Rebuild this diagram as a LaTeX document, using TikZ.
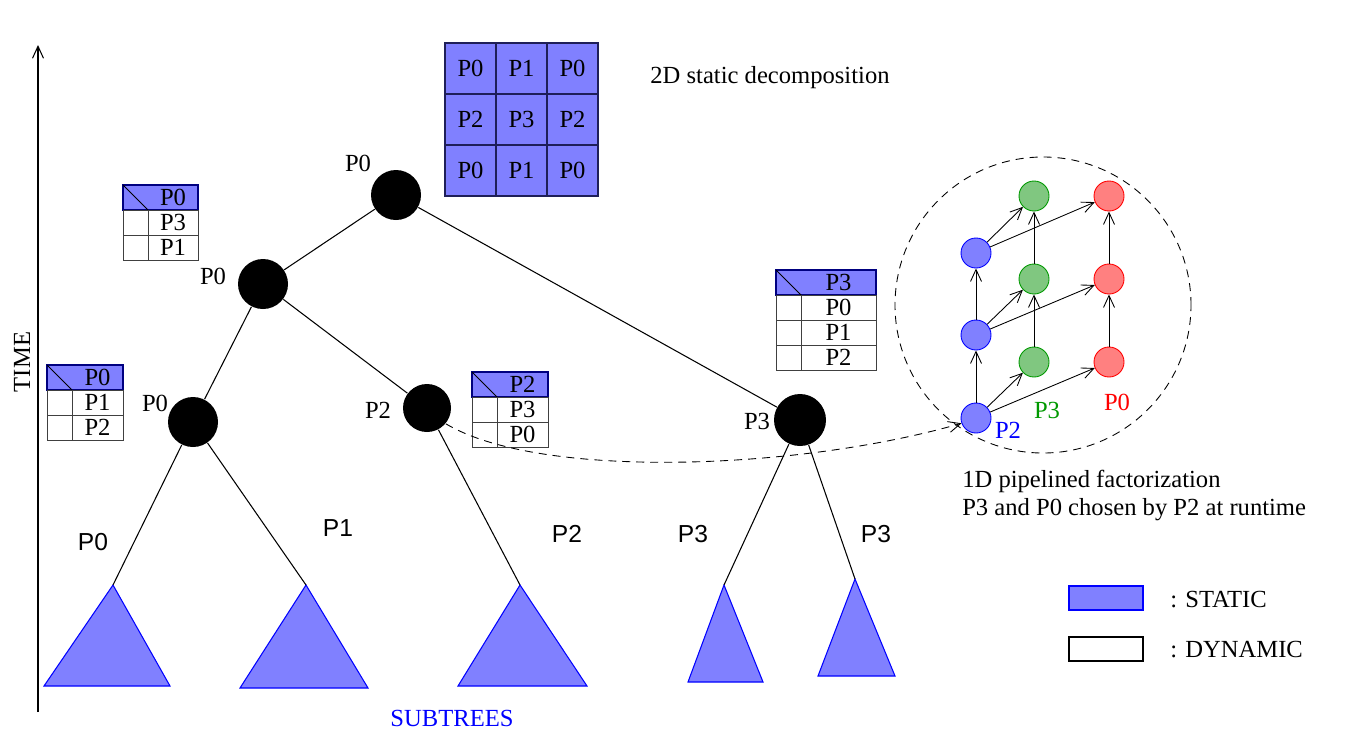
\documentclass[tikz,border=0pt]{standalone}
\usepackage{fontspec}
\setmainfont{Liberation Serif}
\newfontfamily\helvfont{Liberation Sans}
\usetikzlibrary{arrows.meta}

\definecolor{statblue}{rgb}{0.5,0.5,1}
\definecolor{gridnavy}{rgb}{0.12,0.12,0.35}
\definecolor{pipegreen}{rgb}{0.5,0.78,0.5}
\definecolor{darkgreen}{rgb}{0,0.6,0}
\definecolor{pipered}{rgb}{1,0.5,0.5}

\tikzset{
  lab/.style={font=\fontsize{14}{16}\selectfont,inner sep=1pt},
  sanslab/.style={font=\helvfont\fontsize{14}{16}\selectfont,inner sep=1pt},
  treenode/.style={circle,fill=black,inner sep=0pt,minimum size=10mm},
  gridcell/.style={draw=gridnavy,fill=statblue,minimum size=10.2mm,inner sep=0pt,
    font=\fontsize{14}{16}\selectfont},
  subtree/.style={draw=blue,fill=statblue,line width=0.6pt},
  tabline/.style={draw=black!75,line width=0.5pt},
  pnode/.style={circle,inner sep=0pt,minimum size=6mm,line width=0.5pt},
  flow/.style={-{Straight Barb[length=2.4mm,width=2.2mm]},line width=0.5pt},
  dashline/.style={dash pattern=on 1.6mm off 1.2mm,line width=0.5pt}
}

% processor table: name, x, y, width, header, rows
\newcommand{\proctab}[6]{%
  \fill[statblue] (#2,#3) rectangle (#2+#4,#3+25);
  \draw[blue!50!black,line width=0.6pt] (#2,#3) rectangle (#2+#4,#3+25);
  \draw[line width=0.5pt] (#2,#3) -- (#2+25,#3+25);
  \node[lab] (#1h) at (#2+12.5+#4/2,#3+12.5) {#5};
  \foreach \rowtxt [count=\k] in {#6} {
    \draw[tabline] (#2,#3+25*\k) rectangle (#2+25,#3+25*\k+25);
    \draw[tabline] (#2+25,#3+25*\k) rectangle (#2+#4,#3+25*\k+25);
    \node[lab] (#1r\k) at (#2+12.5+#4/2,#3+25*\k+12.5) {\rowtxt};
  }}

\begin{document}
\begin{tikzpicture}[x=0.2mm,y=-0.2mm,line width=0.6pt]
\useasboundingbox (0,0) rectangle (1363,738);

% time axis
\coordinate (tbot) at (38,712);
\coordinate (ttop) at (38,45);
\draw[flow,line width=0.6pt] (tbot) -- (ttop);
\node[lab,rotate=90] (time) at (22,362) {TIME};

% 2D static decomposition
\foreach \rowlist [count=\j from 0] in {{P0,P1,P0},{P2,P3,P2},{P0,P1,P0}}
  \foreach \cell [count=\i from 0] in \rowlist
    \node[gridcell] (g\j\i) at (470.5+51*\i,68.5+51*\j) {\cell};
\draw[gridnavy,line width=0.8pt] (g00.north west) rectangle (g22.south east);
\node[lab] (decomp) at (770,78) {2D static decomposition};

% elimination tree
\node[treenode] (root) at (396,195) {};
\node[treenode] (nA) at (263,284) {};
\node[treenode] (nB) at (193,422) {};
\node[treenode,minimum size=9.6mm] (nC) at (427,408) {};
\node[treenode,minimum size=10.4mm] (nD) at (800,420) {};
\node[lab] (lroot) at (358,163) {P0};
\node[lab] (lA) at (213,276) {P0};
\node[lab] (lB) at (155,403) {P0};
\node[lab] (lC) at (378,410) {P2};
\node[lab] (lD) at (757,421) {P3};

% subtrees
\coordinate (s1) at (113,585);
\coordinate (s2) at (306,585);
\coordinate (s3) at (520,585);
\coordinate (s4) at (724,585);
\coordinate (s5) at (855,579);
\filldraw[subtree] (s1) -- (44,686) -- (170,686) -- cycle;
\filldraw[subtree] (s2) -- (240,688) -- (368,688) -- cycle;
\filldraw[subtree] (s3) -- (458,686) -- (587,686) -- cycle;
\filldraw[subtree] (s4) -- (688,682) -- (763,682) -- cycle;
\filldraw[subtree] (s5) -- (818,676) -- (895,676) -- cycle;
\node[lab,text=blue] (subtrees) at (452,718) {SUBTREES};

\draw (root) -- (nA);
\draw (root) -- (nD);
\draw (nA) -- (nB);
\draw (nA) -- (nC);
\draw (nB) -- (s1);
\draw (nB) -- (s2);
\draw (nC) -- (s3);
\draw (nD) -- (s4);
\draw (nD) -- (s5);

\node[sanslab] (e1) at (93,542) {P0};
\node[sanslab] (e2) at (338,528) {P1};
\node[sanslab] (e3) at (567,534) {P2};
\node[sanslab] (e4) at (693,534) {P3};
\node[sanslab] (e5) at (876,534) {P3};

% processor tables
\proctab{tA}{123}{185}{75}{P0}{P3,P1}
\proctab{tB}{47}{365}{76}{P0}{P1,P2}
\proctab{tC}{472}{372}{76}{P2}{P3,P0}
\proctab{tD}{776}{270}{100}{P3}{P0,P1,P2}

% 1D pipelined factorization
\node[circle,draw,dashline,minimum size=59.2mm] (pipe) at (1043,305) {};
\node[pnode,draw=blue,fill=statblue] (b1) at (976,418) {};
\node[pnode,draw=blue,fill=statblue] (b2) at (976,335) {};
\node[pnode,draw=blue,fill=statblue] (b3) at (976,253) {};
\node[pnode,draw=darkgreen,fill=pipegreen] (g1) at (1034,362) {};
\node[pnode,draw=darkgreen,fill=pipegreen] (g2) at (1034,279) {};
\node[pnode,draw=darkgreen,fill=pipegreen] (g3) at (1034,196) {};
\node[pnode,draw=red,fill=pipered] (r1) at (1109,362) {};
\node[pnode,draw=red,fill=pipered] (r2) at (1109,279) {};
\node[pnode,draw=red,fill=pipered] (r3) at (1109,196) {};
\foreach \src/\dst in {b1/b2,b2/b3,g1/g2,g2/g3,r1/r2,r2/r3,
                       b1/g1,b1/r1,b2/g2,b2/r2,b3/g3,b3/r3}
  \draw[flow] (\src) -- (\dst);
\node[lab,text=blue] (pb) at (1008,430) {P2};
\node[lab,text=darkgreen] (pg) at (1047,410) {P3};
\node[lab,text=red] (pr) at (1117,402) {P0};
\draw[flow,dashline] (nC.-40) .. controls (540,480) and (800,470) .. (b1.200);

\node[lab,anchor=west] (f1) at (960,481) {1D pipelined factorization};
\node[lab,anchor=west] (f2) at (960,510) {P3 and P0 chosen by P2 at runtime};

% legend
\node[draw=blue,fill=statblue,minimum width=14.8mm,minimum height=4.8mm] (legS) at (1106,598) {};
\node[draw,minimum width=14.8mm,minimum height=4.8mm] (legD) at (1106,649) {};
\node[lab,anchor=west] (legSt) at (1168,600) {: STATIC};
\node[lab,anchor=west] (legDt) at (1168,650) {: DYNAMIC};
\end{tikzpicture}
\end{document}
